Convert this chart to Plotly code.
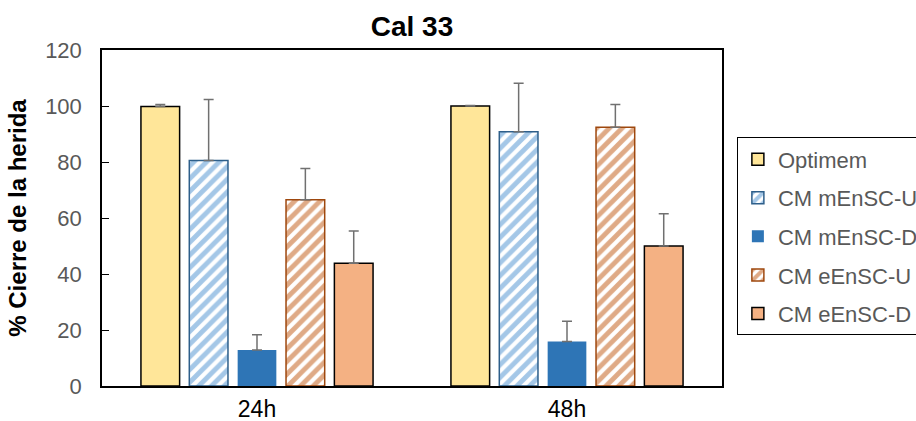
import plotly.graph_objects as go

categories = ["24h", "48h"]
series_names = ["Optimem", "CM mEnSC-U", "CM mEnSC-D", "CM eEnSC-U", "CM eEnSC-D"]
values = {
    "Optimem": [99.8, 100.0],
    "CM mEnSC-U": [80.5, 90.8],
    "CM mEnSC-D": [12.9, 15.9],
    "CM eEnSC-U": [66.5, 92.4],
    "CM eEnSC-D": [43.8, 50.0],
}
errors = {
    "Optimem": [0.7, 0.2],
    "CM mEnSC-U": [21.8, 17.3],
    "CM mEnSC-D": [5.4, 7.2],
    "CM eEnSC-U": [11.2, 8.1],
    "CM eEnSC-D": [11.6, 11.5],
}

styles = {
    "Optimem": dict(color="#FFE699", line=dict(color="#000000", width=1.5)),
    "CM mEnSC-U": dict(color="white", line=dict(color="#2E5F8A", width=1.5),
                       pattern=dict(shape="/", fgcolor="#4A8FD0", bgcolor="white", size=9, solidity=0.55)),
    "CM mEnSC-D": dict(color="#2E75B6", line=dict(color="#2E75B6", width=0)),
    "CM eEnSC-U": dict(color="white", line=dict(color="#9E480E", width=1.5),
                       pattern=dict(shape="/", fgcolor="#C0560E", bgcolor="white", size=9, solidity=0.55)),
    "CM eEnSC-D": dict(color="#F4B183", line=dict(color="#000000", width=1.5)),
}

fig = go.Figure()
for name in series_names:
    fig.add_trace(go.Bar(
        x=categories, y=values[name], name=name,
        legendgroup=name,
        marker=styles[name],
        error_y=dict(type="data", array=errors[name], symmetric=False, arrayminus=[0, 0],
                     color="#707070", thickness=1.5, width=5),
    ))

font_family = "Liberation Sans, Arial, sans-serif"
fig.update_layout(
    width=916, height=421,
    margin=dict(l=102, r=194, t=50, b=35, autoexpand=False),
    paper_bgcolor="white", plot_bgcolor="white",
    barmode="group", bargap=0.22, bargroupgap=0.2,
    title=dict(text="<b>Cal 33</b>", x=(102 + 722) / 2 / 916, xanchor="center",
               y=1 - 26 / 421, yanchor="middle",
               font=dict(family=font_family, size=28, color="#000000")),
    font=dict(family=font_family, size=22, color="#595959"),
    legend=dict(x=1.024, xanchor="left", y=0.74, yanchor="top",
                bordercolor="#000000", borderwidth=1, bgcolor="white",
                font=dict(size=22, color="#595959"),
                tracegroupgap=7, traceorder="grouped",
                itemwidth=30),
    showlegend=True,
)
fig.update_yaxes(
    range=[0, 120], dtick=20,
    ticks="inside", ticklen=7, tickcolor="#000000", tickwidth=1,
    showline=True, linecolor="#000000", linewidth=1.5, mirror=True,
    showgrid=False, zeroline=False,
    ticklabelstandoff=14,
    tickfont=dict(family=font_family, size=22, color="#595959"),
    title=dict(text="<b>% Cierre de la herida</b>", standoff=12,
               font=dict(family=font_family, size=24, color="#000000")),
)
fig.update_xaxes(
    showline=True, linecolor="#000000", linewidth=1.5, mirror=True,
    ticks="", showgrid=False, ticklabelstandoff=2,
    tickfont=dict(family=font_family, size=23, color="#000000"),
)

fig.write_html("out.html")
